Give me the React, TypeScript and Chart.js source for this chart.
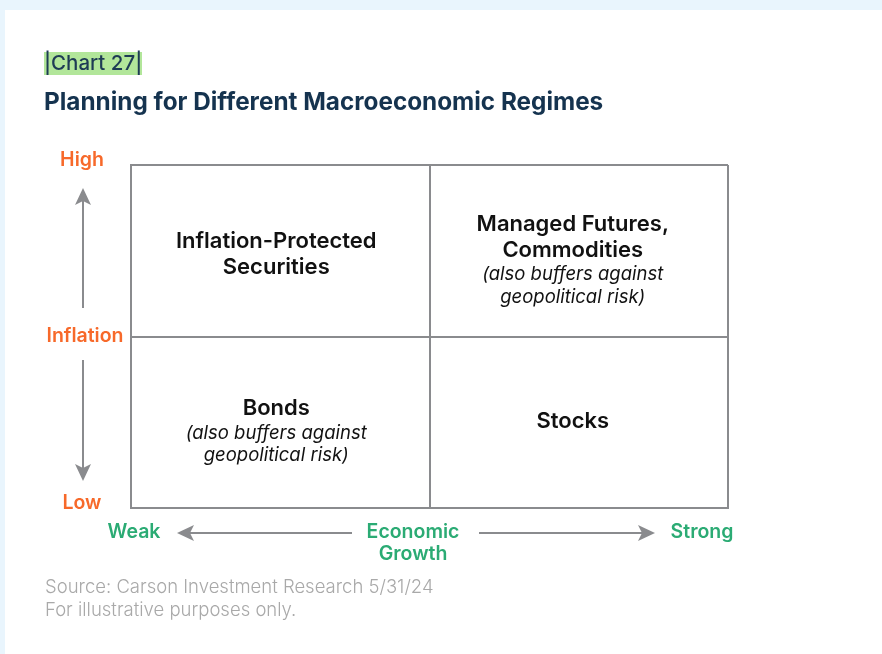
import React, { useEffect, useRef } from "react";
import { Chart, registerables } from "chart.js";

Chart.register(...registerables);

// Data
const growthLevels = ["Weak", "Strong"]; // x categories
const inflationLevels = ["Low", "High"]; // y categories
const quadrantX = [0.5, 1.5, 0.5, 1.5];
const quadrantY = [1.5, 1.5, 0.5, 0.5];
const quadrantTitles = [
  ["Inflation-Protected", "Securities"],
  ["Managed Futures,", "Commodities"],
  ["Bonds"],
  ["Stocks"],
];
const quadrantNotes = [
  [],
  ["(also buffers against", "geopolitical risk)"],
  ["(also buffers against", "geopolitical risk)"],
  [],
];
const chartLabel = "|Chart 27|";
const chartTitle = "Planning for Different Macroeconomic Regimes";
const xAxisTitle = ["Economic", "Growth"];
const yAxisTitle = "Inflation";
const sourceLines = ["Source: Carson Investment Research 5/31/24", "For illustrative purposes only."];

const FONT = "Inter, 'Noto Sans', sans-serif";
const ORANGE = "#f7692a";
const GREEN = "#2bab74";
const GRAY = "#8a8b8e";
const NAVY = "#15334f";

function arrowHead(ctx: CanvasRenderingContext2D, x: number, y: number, dir: "up" | "down" | "left" | "right") {
  const L = 17, W = 8, N = 4;
  ctx.beginPath();
  if (dir === "up") { ctx.moveTo(x, y); ctx.lineTo(x - W, y + L); ctx.lineTo(x, y + L - N); ctx.lineTo(x + W, y + L); }
  if (dir === "down") { ctx.moveTo(x, y); ctx.lineTo(x - W, y - L); ctx.lineTo(x, y - L + N); ctx.lineTo(x + W, y - L); }
  if (dir === "left") { ctx.moveTo(x, y); ctx.lineTo(x + L, y - W); ctx.lineTo(x + L - N, y); ctx.lineTo(x + L, y + W); }
  if (dir === "right") { ctx.moveTo(x, y); ctx.lineTo(x - L, y - W); ctx.lineTo(x - L + N, y); ctx.lineTo(x - L, y + W); }
  ctx.closePath();
  ctx.fill();
}

const decorPlugin = {
  id: "decor",
  beforeDraw(chart: any) {
    const ctx: CanvasRenderingContext2D = chart.ctx;
    ctx.save();
    ctx.fillStyle = "#e9f5fd";
    ctx.fillRect(0, 0, chart.width, chart.height);
    ctx.fillStyle = "#ffffff";
    ctx.fillRect(5, 10, chart.width - 5, chart.height - 10);
    ctx.restore();
  },
  afterDraw(chart: any) {
    const ctx: CanvasRenderingContext2D = chart.ctx;
    const xs = chart.scales.x;
    const ys = chart.scales.y;
    const area = chart.chartArea;
    ctx.save();
    ctx.textAlign = "center";
    ctx.textBaseline = "middle";

    // header
    ctx.fillStyle = "#b2e69a";
    ctx.fillRect(44, 52, 98, 23);
    ctx.fillStyle = "#1e3b55";
    ctx.font = `500 20.5px ${FONT}`;
    ctx.textAlign = "left";
    ctx.fillText(chartLabel, 44, 64);
    ctx.fillStyle = NAVY;
    ctx.font = `700 24.3px ${FONT}`;
    ctx.fillText(chartTitle, 44, 103);

    // source
    ctx.fillStyle = "#a9a9a9";
    ctx.font = `300 18.5px ${FONT}`;
    ctx.fillText(sourceLines[0], 45, 587);
    ctx.fillText(sourceLines[1], 45, 610);

    ctx.textAlign = "center";
    // quadrant labels
    for (let i = 0; i < quadrantTitles.length; i++) {
      const col = quadrantX[i] > 1 ? 1 : 0;
      const cx = xs.getPixelForValue(quadrantX[i]) - 4 - 2 * col;
      const cy = ys.getPixelForValue(quadrantY[i]);
      const t = quadrantTitles[i];
      const n = quadrantNotes[i];
      const lines: { text: string; font: string; gap: number }[] = [];
      t.forEach((s, k) => lines.push({ text: s, font: `600 22px ${FONT}`, gap: k === 0 ? 0 : 25.5 }));
      n.forEach((s, k) => lines.push({ text: s, font: `italic 400 18.5px ${FONT}`, gap: k === 0 ? 24.5 : 22.5 }));
      const span = lines.reduce((a, l) => a + l.gap, 0);
      const shift = n.length ? 10 : 3.5;
      let y = cy - span / 2 + shift;
      if (i === 3) y -= 4;
      for (const l of lines) {
        y += l.gap;
        ctx.font = l.font;
        ctx.fillStyle = "#111111";
        ctx.fillText(l.text, cx, y);
      }
    }

    // y axis (inflation)
    const ax = 83;
    ctx.fillStyle = ORANGE;
    ctx.font = `600 19.5px ${FONT}`;
    ctx.fillText(inflationLevels[1], 82, area.top - 5);
    ctx.fillText(inflationLevels[0], 82, area.bottom - 5);
    const midY = ys.getPixelForValue(1);
    ctx.fillText(yAxisTitle, 85, midY);
    ctx.strokeStyle = GRAY;
    ctx.fillStyle = GRAY;
    ctx.lineWidth = 2;
    ctx.beginPath();
    ctx.moveTo(ax, 200); ctx.lineTo(ax, 308);
    ctx.moveTo(ax, 360); ctx.lineTo(ax, 470);
    ctx.stroke();
    arrowHead(ctx, ax, 188, "up");
    arrowHead(ctx, ax, 481, "down");

    // x axis (growth)
    const ay = 533;
    ctx.fillStyle = GREEN;
    ctx.font = `600 19.5px ${FONT}`;
    ctx.fillText(growthLevels[0], 134, 532);
    ctx.fillText(growthLevels[1], 702, 532);
    const midX = 413;
    ctx.fillText(xAxisTitle[0], midX, 532);
    ctx.fillText(xAxisTitle[1], midX, 554);
    ctx.strokeStyle = GRAY;
    ctx.fillStyle = GRAY;
    ctx.beginPath();
    ctx.moveTo(188, ay); ctx.lineTo(352, ay);
    ctx.moveTo(479, ay); ctx.lineTo(643, ay);
    ctx.stroke();
    arrowHead(ctx, 177, ay, "left");
    arrowHead(ctx, 655, ay, "right");

    ctx.restore();
  },
};

export default function App() {
  const ref = useRef<HTMLCanvasElement | null>(null);
  useEffect(() => {
    if (!ref.current) return;
    const chart = new Chart(ref.current, {
      type: "scatter",
      data: {
        datasets: [
          {
            data: quadrantX.map((x, i) => ({ x, y: quadrantY[i] })),
            pointRadius: 0,
            pointHoverRadius: 0,
          },
        ],
      },
      options: {
        responsive: false,
        animation: false,
        events: [],
        layout: { padding: { left: 131, top: 165, right: 154, bottom: 146 } },
        plugins: { legend: { display: false }, tooltip: { enabled: false }, title: { display: false } },
        scales: {
          x: {
            type: "linear",
            min: 0,
            max: 2,
            ticks: { display: false, stepSize: 1 },
            grid: { color: GRAY, lineWidth: 2, drawTicks: false },
            border: { display: true, color: GRAY, width: 2 },
          },
          y: {
            type: "linear",
            min: 0,
            max: 2,
            ticks: { display: false, stepSize: 1 },
            grid: { color: GRAY, lineWidth: 2, drawTicks: false },
            border: { display: true, color: GRAY, width: 2 },
          },
        },
      },
      plugins: [decorPlugin],
    });
    return () => chart.destroy();
  }, []);
  return (
    <div style={{ position: "absolute", left: 0, top: 0, width: 882, height: 654 }}>
      <canvas ref={ref} width={882} height={654} style={{ display: "block", width: 882, height: 654 }} />
    </div>
  );
}
